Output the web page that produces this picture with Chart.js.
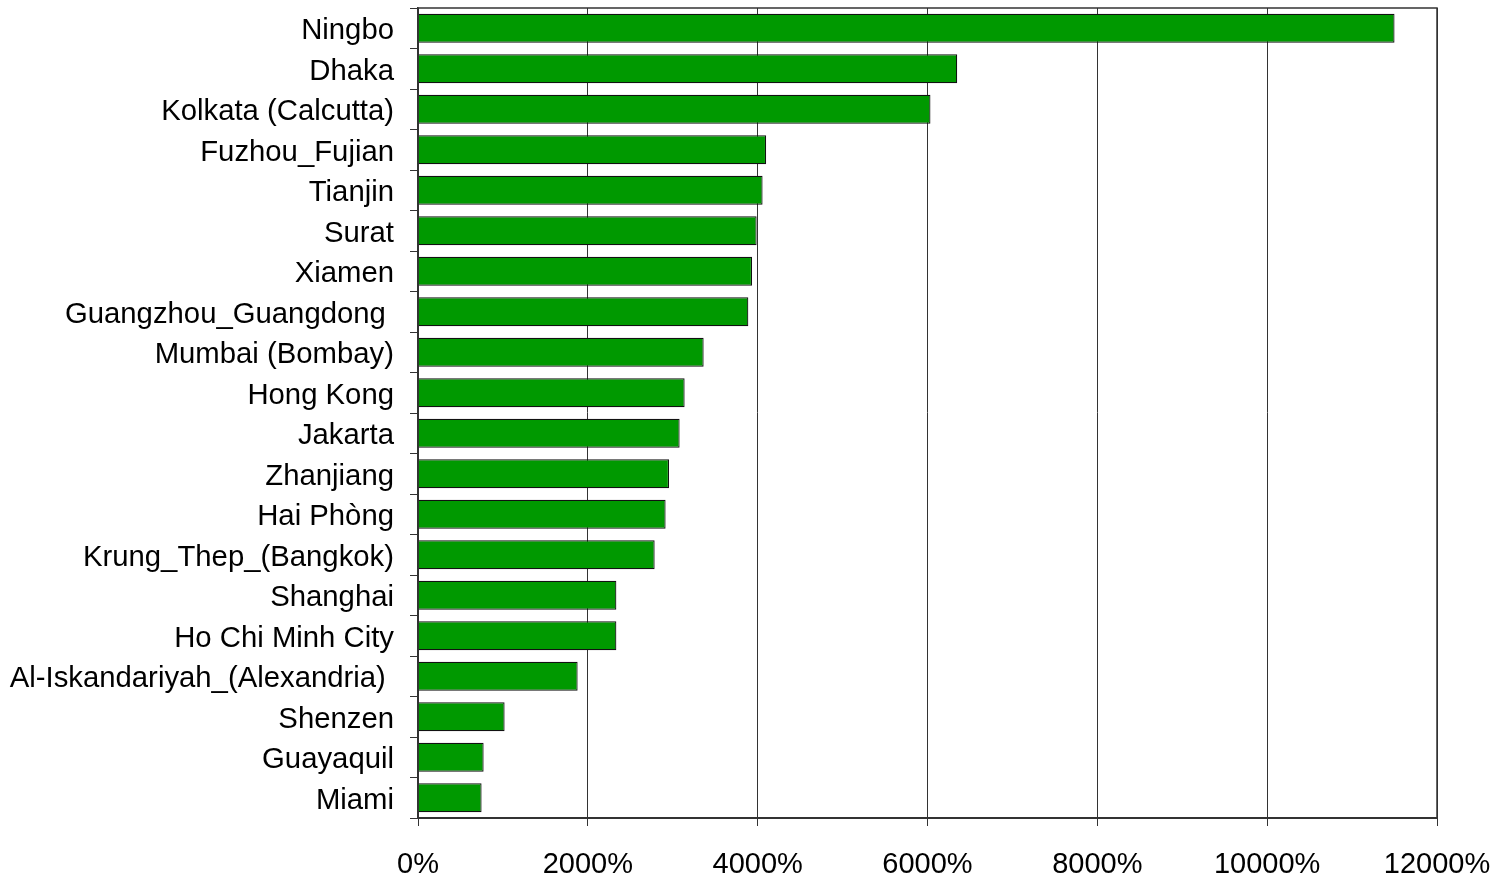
<!DOCTYPE html>
<html>
<head>
<meta charset="utf-8">
<script src="https://cdn.jsdelivr.net/npm/chart.js@4"></script>
<style>
  html, body { margin: 0; padding: 0; background: #ffffff; }
  #wrap { width: 1494px; height: 877px; position: relative; }
</style>
</head>
<body>
<div id="wrap"><canvas id="chart"></canvas></div>
<script>
// Port cities, top to bottom
const cities = [
  "Ningbo", "Dhaka", "Kolkata (Calcutta)", "Fuzhou_Fujian", "Tianjin", "Surat",
  "Xiamen", "Guangzhou_Guangdong ", "Mumbai (Bombay)", "Hong Kong", "Jakarta",
  "Zhanjiang", "Hai Phòng", "Krung_Thep_(Bangkok)", "Shanghai", "Ho Chi Minh City",
  "Al-Iskandariyah_(Alexandria) ", "Shenzen", "Guayaquil", "Miami"
];

// Percentage change per city
const pctChange = [
  11500, 6350, 6035, 4100, 4058, 3988,
  3934, 3890, 3364, 3140, 3081,
  2956, 2916, 2787, 2336, 2336,
  1880, 1020, 773, 749
];

// Value axis ticks
const xTickValues = [0, 2000, 4000, 6000, 8000, 10000, 12000];

const FAMILY = "'Liberation Sans', Arial, sans-serif";
const Y_FONT = { family: FAMILY, size: 29.3 };
const X_FONT = { family: FAMILY, size: 29 };

// Outline round the whole plotting area
const frame = {
  id: 'frame',
  afterDraw(chart) {
    const { ctx, chartArea: a } = chart;
    ctx.save();
    ctx.strokeStyle = '#333333';
    ctx.lineWidth = 1.5;
    ctx.strokeRect(a.left, a.top, a.right - a.left, a.bottom - a.top);
    ctx.restore();
  }
};

// Keep the plotting area exactly where the layout padding puts it
function noExtraPadding(scale) {
  scale.paddingTop = 0;
  scale.paddingBottom = 0;
  scale.paddingLeft = 0;
  scale.paddingRight = 0;
}

new Chart(document.getElementById('chart'), {
  type: 'bar',
  data: {
    labels: cities,
    datasets: [{
      data: pctChange,
      backgroundColor: '#009900',
      borderColor: '#111111',
      borderWidth: 1.2,
      barPercentage: 0.71,
      categoryPercentage: 1.0
    }]
  },
  options: {
    indexAxis: 'y',
    responsive: true,
    maintainAspectRatio: false,
    animation: false,
    devicePixelRatio: 1,
    layout: { padding: { left: 0, right: 57, top: 8, bottom: 0 } },
    plugins: {
      legend: { display: false },
      tooltip: { enabled: false },
      title: { display: false }
    },
    scales: {
      x: {
        type: 'linear',
        min: 0,
        max: 12000,
        afterBuildTicks(scale) {
          scale.ticks = xTickValues.map(v => ({ value: v }));
        },
        afterFit(scale) { scale.height = 59; noExtraPadding(scale); },
        ticks: {
          color: '#000000',
          font: X_FONT,
          padding: 22,
          maxRotation: 0,
          callback: v => v + '%'
        },
        grid: {
          color: '#333333',
          lineWidth: 1,
          tickLength: 8,
          drawTicks: true
        },
        border: { display: true, color: '#333333', width: 2 }
      },
      y: {
        type: 'category',
        offset: true,
        afterFit(scale) { scale.width = 418; noExtraPadding(scale); },
        ticks: {
          color: '#000000',
          font: Y_FONT,
          padding: 16,
          labelOffset: 3,
          autoSkip: false
        },
        grid: {
          offset: true,
          drawOnChartArea: false,
          drawTicks: true,
          tickLength: 8,
          color: '#333333',
          lineWidth: 1
        },
        border: { display: true, color: '#333333', width: 1.5 }
      }
    }
  },
  plugins: [frame]
});
</script>
</body>
</html>
